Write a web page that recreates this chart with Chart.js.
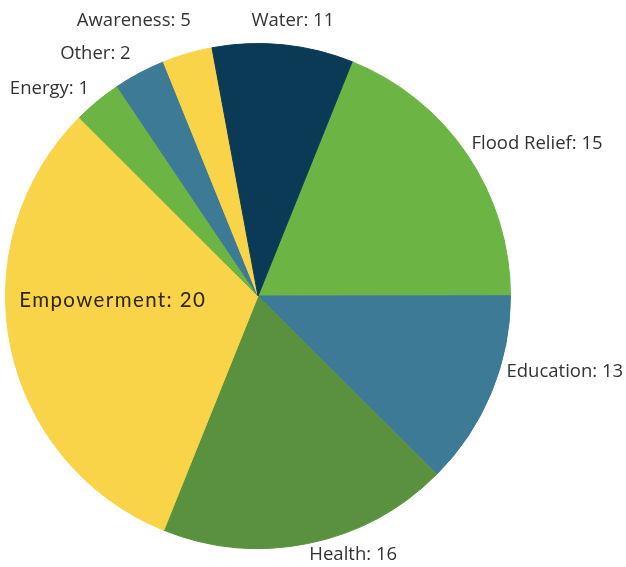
<!DOCTYPE html>
<html>
<head>
<meta charset="utf-8">
<script src="https://cdn.jsdelivr.net/npm/chart.js@4/dist/chart.umd.min.js"></script>
<style>
html,body{margin:0;padding:0;background:#fff;}
#wrap{width:626px;height:567px;}
</style>
</head>
<body>
<div id="wrap"><canvas id="c" width="626" height="567"></canvas></div>
<script>
// Categories, in drawing order (clockwise, starting just right of 12 o'clock)
const categories = ["Flood Relief", "Education", "Health", "Empowerment", "Energy", "Other", "Awareness", "Water"];
// Numbers printed in the labels
const labelValues = [15, 13, 16, 20, 1, 2, 5, 11];
// Slice shares as drawn in the picture (percent of the circle)
const sliceShares = [18.9, 12.5, 18.6, 31.4, 3.1, 3.3, 3.2, 9.0];
const colors = ["#6cb444", "#3d7a96", "#5a913e", "#f9d448", "#6cb444", "#3d7a96", "#f9d448", "#0b3a56"];

// label anchors relative to pie center, in units of radius
const labelPos = {
  "Flood Relief": [1.105, -0.605],
  "Education":    [1.215, 0.300],
  "Health":       [0.377, 1.024],
  "Empowerment":  [-0.575, 0.016],
  "Energy":       [-0.826, -0.822],
  "Other":        [-0.644, -0.960],
  "Awareness":    [-0.492, -1.091],
  "Water":        [0.138, -1.091]
};

const labelPlugin = {
  id: 'sliceLabels',
  afterDatasetsDraw(chart) {
    const ctx = chart.ctx;
    const arc = chart.getDatasetMeta(0).data[0];
    const cx = arc.x, cy = arc.y, r = arc.outerRadius;
    ctx.save();
    ctx.textAlign = 'center';
    ctx.textBaseline = 'middle';
    categories.forEach((cat, i) => {
      const p = labelPos[cat];
      const text = cat + ': ' + labelValues[i];
      if (cat === 'Empowerment') {
        ctx.font = '20.5px Lato';
        ctx.fillStyle = '#2e2512';
        if (ctx.letterSpacing !== undefined) ctx.letterSpacing = '1.4px';
      } else {
        ctx.font = '18.5px "Open Sans"';
        ctx.fillStyle = '#333333';
        if (ctx.letterSpacing !== undefined) ctx.letterSpacing = '0px';
      }
      ctx.fillText(text, cx + p[0] * r, cy + p[1] * r);
    });
    ctx.restore();
  }
};

new Chart(document.getElementById('c'), {
  type: 'pie',
  data: {
    labels: categories,
    datasets: [{
      data: sliceShares,
      backgroundColor: colors,
      borderColor: colors,
      borderWidth: 1
    }]
  },
  options: {
    responsive: false,
    animation: false,
    rotation: 21.9,
    layout: { padding: { left: 5, right: 115, top: 43, bottom: 18 } },
    plugins: {
      legend: { display: false },
      tooltip: { enabled: false }
    }
  },
  plugins: [labelPlugin]
});
</script>
</body>
</html>
